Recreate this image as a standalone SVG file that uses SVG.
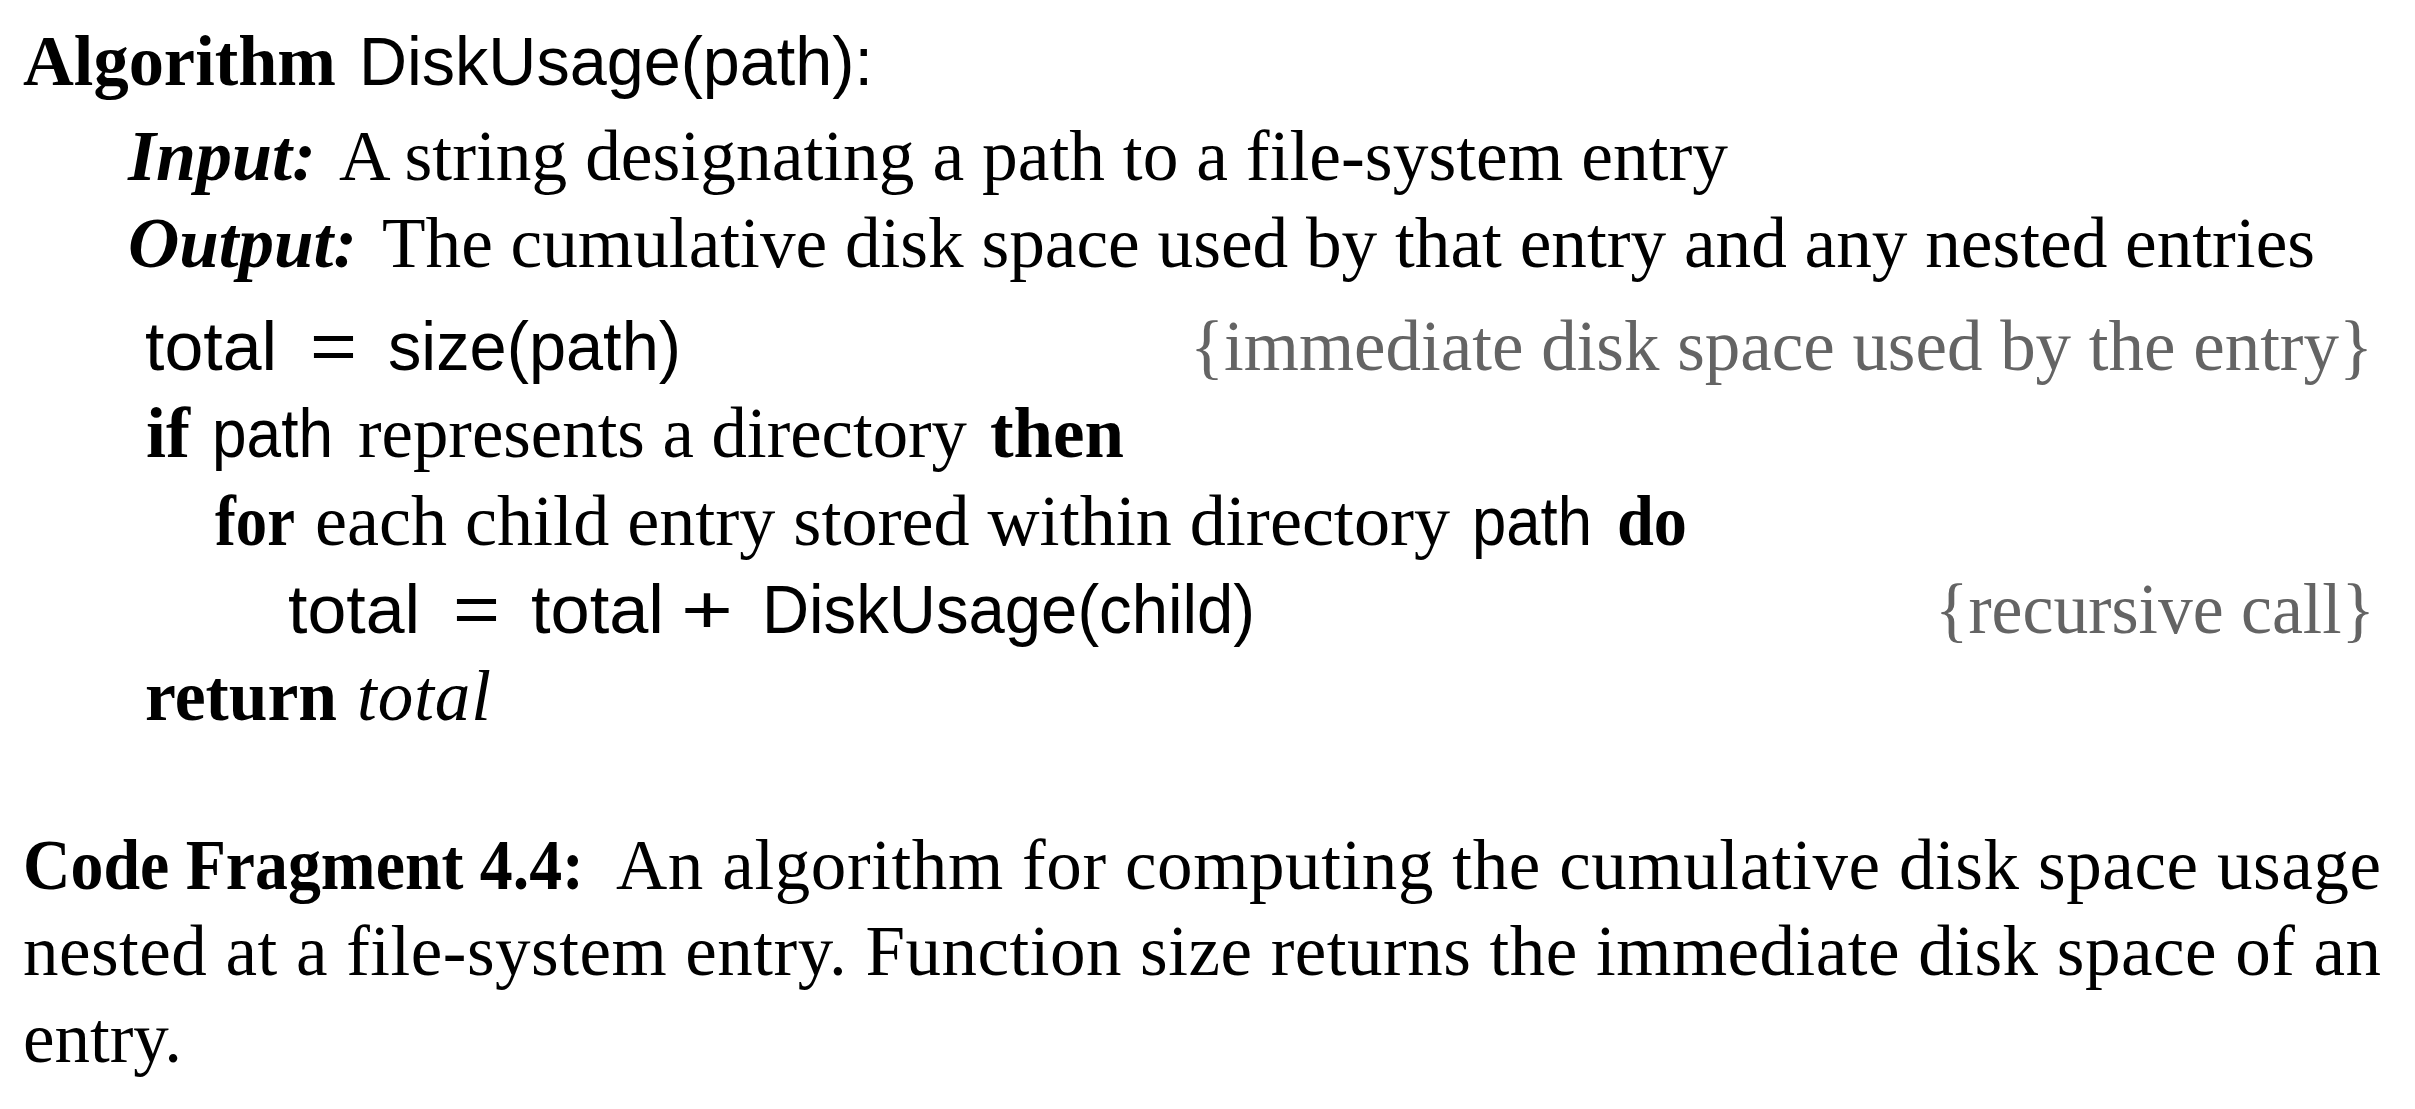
<svg xmlns="http://www.w3.org/2000/svg" width="2415" height="1109" viewBox="0 0 2415 1109">
<style>
  text { fill: #000; }
  .s { font-family: "Liberation Serif", "Times New Roman", serif; font-size: 71px; }
  .b { font-family: "Liberation Serif", "Times New Roman", serif; font-size: 71px; font-weight: bold; }
  .bi { font-family: "Liberation Serif", "Times New Roman", serif; font-size: 71px; font-weight: bold; font-style: italic; }
  .i { font-family: "Liberation Serif", "Times New Roman", serif; font-size: 71px; font-style: italic; }
  .ss { font-family: "Liberation Sans", Arial, sans-serif; font-size: 68px; }
  .c { font-family: "Liberation Serif", "Times New Roman", serif; font-size: 71px; fill: #646464; }
</style>
<rect width="2415" height="1109" fill="#ffffff"/>
<g id="header">
  <text class="b" x="23" y="85" textLength="313" lengthAdjust="spacingAndGlyphs">Algorithm</text>
  <text class="ss" x="359" y="85" textLength="514" lengthAdjust="spacingAndGlyphs">DiskUsage(path):</text>
  <text class="bi" x="128" y="180" textLength="188" lengthAdjust="spacingAndGlyphs">Input:</text>
  <text class="s" x="339" y="180" textLength="1389" lengthAdjust="spacingAndGlyphs">A string designating a path to a file-system entry</text>
  <text class="bi" x="128" y="267" textLength="229" lengthAdjust="spacingAndGlyphs">Output:</text>
  <text class="s" x="382" y="267" textLength="1933" lengthAdjust="spacingAndGlyphs">The cumulative disk space used by that entry and any nested entries</text>
</g>
<g id="line-total">
  <text class="ss" x="145" y="370" textLength="132" lengthAdjust="spacingAndGlyphs">total</text>
  <text class="ss" x="310" y="370" textLength="47" lengthAdjust="spacingAndGlyphs">=</text>
  <text class="ss" x="388" y="370" textLength="293" lengthAdjust="spacingAndGlyphs">size(path)</text>
  <text class="c" x="1190" y="370" textLength="1183" lengthAdjust="spacingAndGlyphs">{immediate disk space used by the entry}</text>
</g>
<g id="line-if">
  <text class="b" x="146" y="457" textLength="44" lengthAdjust="spacingAndGlyphs">if</text>
  <text class="ss" x="212" y="457" textLength="121" lengthAdjust="spacingAndGlyphs">path</text>
  <text class="s" x="358" y="457" textLength="609" lengthAdjust="spacingAndGlyphs">represents a directory</text>
  <text class="b" x="990" y="457" textLength="134" lengthAdjust="spacingAndGlyphs">then</text>
</g>
<g id="line-for">
  <text class="b" x="215" y="545" textLength="80" lengthAdjust="spacingAndGlyphs">for</text>
  <text class="s" x="315" y="545" textLength="1135" lengthAdjust="spacingAndGlyphs">each child entry stored within directory</text>
  <text class="ss" x="1472" y="545" textLength="120" lengthAdjust="spacingAndGlyphs">path</text>
  <text class="b" x="1617" y="545" textLength="70" lengthAdjust="spacingAndGlyphs">do</text>
</g>
<g id="line-recurse">
  <text class="ss" x="288" y="633" textLength="132" lengthAdjust="spacingAndGlyphs">total</text>
  <text class="ss" x="453" y="633" textLength="47" lengthAdjust="spacingAndGlyphs">=</text>
  <text class="ss" x="531" y="633" textLength="133" lengthAdjust="spacingAndGlyphs">total</text>
  <text class="ss" x="681" y="633" textLength="52" lengthAdjust="spacingAndGlyphs">+</text>
  <text class="ss" x="762" y="633" textLength="493" lengthAdjust="spacingAndGlyphs">DiskUsage(child)</text>
  <text class="c" x="1935" y="633" textLength="440" lengthAdjust="spacingAndGlyphs">{recursive call}</text>
</g>
<g id="line-return">
  <text class="b" x="145" y="720" textLength="192" lengthAdjust="spacingAndGlyphs">return</text>
  <text class="i" x="357" y="720" textLength="134" lengthAdjust="spacing">total</text>
</g>
<g id="caption">
  <text class="b" x="23" y="889" textLength="561" lengthAdjust="spacingAndGlyphs">Code Fragment 4.4:</text>
  <text class="s" x="616" y="889" textLength="1765" lengthAdjust="spacing">An algorithm for computing the cumulative disk space usage</text>
  <text class="s" x="23" y="975" textLength="2358" lengthAdjust="spacing">nested at a file-system entry.  Function size returns the immediate disk space of an</text>
  <text class="s" x="23" y="1062" textLength="159" lengthAdjust="spacingAndGlyphs">entry.</text>
</g>
</svg>
